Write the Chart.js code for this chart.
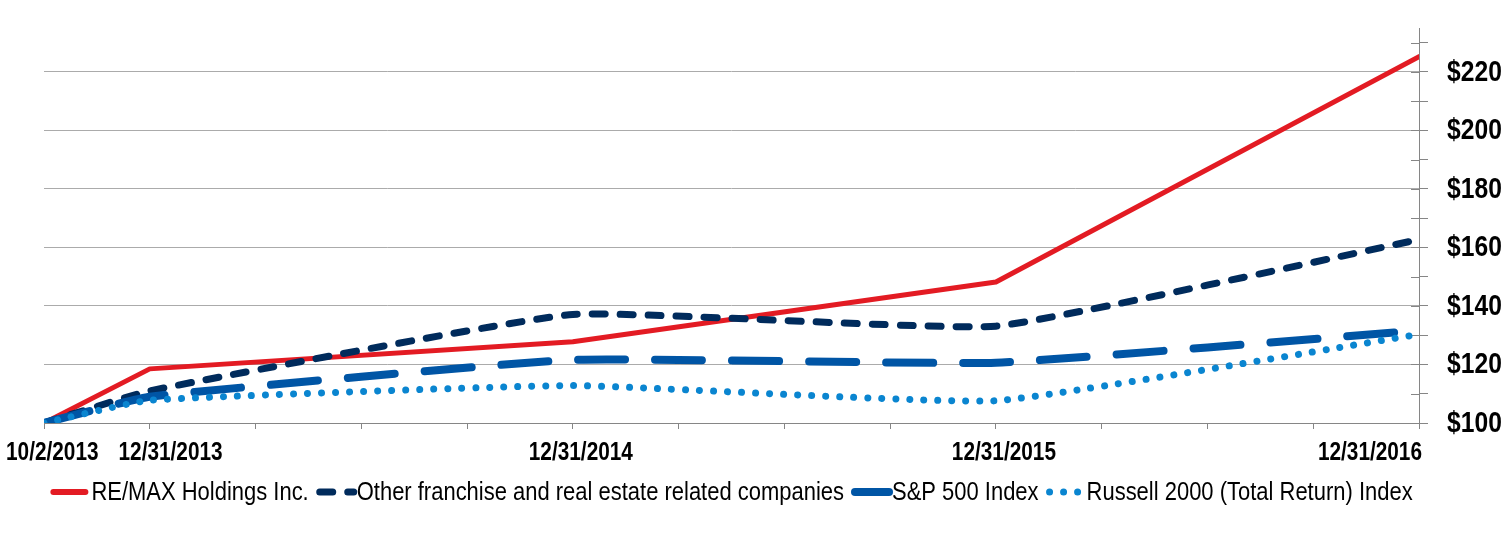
<!DOCTYPE html>
<html>
<head>
<meta charset="utf-8">
<script src="https://cdn.jsdelivr.net/npm/chart.js@4.4.1/dist/chart.umd.min.js"></script>
<style>
  html, body { margin: 0; padding: 0; background: #ffffff; }
  #wrap { width: 1507px; height: 536px; position: relative; }
</style>
</head>
<body>
<div id="wrap"><canvas id="c"></canvas></div>
<script>
// ---- data ----
const categories = ['10/2/2013', '12/31/2013', '12/31/2014', '12/31/2015', '12/31/2016'];
const quartersFromStart = [0, 1, 5, 9, 13];
const remax   = [100, 118.5, 127.8, 148.2, 225.2];
const other   = [100, 111.0, 137.1, 133.1, 162.7];
const sp500   = [100, 109.0, 121.6, 120.6, 131.6];
const russell = [100, 107.8, 112.8, 107.6, 130.3];
const seriesNames = ['RE/MAX Holdings Inc.', 'Other franchise and real estate related companies', 'S&P 500 Index', 'Russell 2000 (Total Return) Index'];
const yMin = 100, yMax = 235, yStep = 10, yLabelStep = 20;

// Arial-metric font drawn horizontally condensed to mimic Arial Narrow
const FONT = '"Liberation Sans", Arial, sans-serif';
const pts = vals => vals.map((v, i) => ({ x: quartersFromStart[i], y: v }));

const axisGray = '#868686';
const gridGray = '#ABABAB';

function narrowText(ctx, text, x, y, sx) {
  ctx.save();
  ctx.translate(x, y);
  ctx.scale(sx, 1);
  ctx.fillText(text, 0, 0);
  ctx.restore();
}

const inwardTicks = {
  id: 'inwardTicks',
  beforeDatasetsDraw(chart) {
    const { ctx, chartArea, scales } = chart;
    const y = scales.y;
    ctx.save();
    ctx.strokeStyle = axisGray;
    ctx.lineWidth = 1;
    y.ticks.forEach(t => {
      const py = Math.round(y.getPixelForValue(t.value)) + 0.5;
      ctx.beginPath();
      ctx.moveTo(chartArea.right - 8, py);
      ctx.lineTo(chartArea.right, py);
      ctx.stroke();
    });
    ctx.restore();
  }
};

const axisLabels = {
  id: 'axisLabels',
  afterDraw(chart) {
    const { ctx, chartArea, scales } = chart;
    // y labels
    const ys = scales.y;
    ctx.save();
    ctx.fillStyle = '#000';
    ctx.textBaseline = 'middle';
    ctx.textAlign = 'left';
    ctx.font = 'bold 29px ' + FONT;
    ys.ticks.forEach(t => {
      if (t.value % yLabelStep !== 0) return;
      narrowText(ctx, '$' + t.value, chartArea.right + 28, ys.getPixelForValue(t.value) + 1, 0.85);
    });
    // x labels
    const xs = scales.x;
    const sx = 0.80;
    ctx.font = 'bold 26px ' + FONT;
    let prevRight = -Infinity;
    categories.forEach((lab, i) => {
      const w = ctx.measureText(lab).width * sx;
      let left = xs.getPixelForValue(quartersFromStart[i]) + 8 - w / 2;
      if (i === 0) left = Math.max(left, 6);
      else left = Math.max(left, prevRight + 20);
      if (left + w > chartArea.right + 3) left = chartArea.right + 3 - w;
      narrowText(ctx, lab, left, chartArea.bottom + 30, sx);
      prevRight = left + w;
    });
    ctx.restore();
  }
};

const legendPlugin = {
  id: 'customLegend',
  afterDraw(chart) {
    const { ctx, chartArea } = chart;
    const sampleW = 38, gapAfterSample = 3, gapAfterText = 7, sx = 0.845;
    ctx.save();
    ctx.font = '26px ' + FONT;
    const items = chart.data.datasets.map(ds => ({ ds, w: ctx.measureText(ds.label).width * sx }));
    let total = 0;
    items.forEach((it, i) => { total += sampleW + gapAfterSample + it.w + (i < items.length - 1 ? gapAfterText : 0); });
    let x = (chartArea.left + chartArea.right) / 2 - total / 2;
    const yc = chartArea.bottom + 69;
    items.forEach(it => {
      const ds = it.ds;
      ctx.save();
      ctx.strokeStyle = ds.borderColor;
      ctx.lineWidth = ds.legendWidth || ds.borderWidth;
      ctx.lineCap = 'round';
      ctx.setLineDash(ds.borderDash || []);
      ctx.lineDashOffset = ds.legendDashOffset || 0;
      const inset = ds.borderDash && ds.borderDash.length ? 0 : 3;
      ctx.beginPath();
      ctx.moveTo(x + inset, yc);
      ctx.lineTo(x + sampleW - inset, yc);
      ctx.stroke();
      ctx.restore();
      x += sampleW + gapAfterSample;
      ctx.fillStyle = '#000';
      ctx.textBaseline = 'middle';
      ctx.textAlign = 'left';
      narrowText(ctx, ds.label, x, yc + 1, sx);
      x += it.w + gapAfterText;
    });
    ctx.restore();
  }
};

new Chart(document.getElementById('c'), {
  type: 'line',
  data: {
    datasets: [
      { label: seriesNames[0], data: pts(remax), borderColor: '#E31B23', borderWidth: 5, tension: 0, order: 3, legendWidth: 6, borderCapStyle: 'round', borderJoinStyle: 'round' },
      { label: seriesNames[1], data: pts(other), borderColor: '#002B5C', borderWidth: 7, borderDash: [13, 15], borderCapStyle: 'round', tension: 0.12, order: 2, legendDashOffset: -4 },
      { label: seriesNames[2], data: pts(sp500), borderColor: '#0055A5', borderWidth: 8, borderDash: [47, 30], borderCapStyle: 'round', tension: 0.12, order: 1, legendDashOffset: -4 },
      { label: seriesNames[3], data: pts(russell), borderColor: '#0A85D0', borderWidth: 7, borderDash: [0.01, 14], borderCapStyle: 'round', tension: 0.12, order: 0, legendDashOffset: -4 }
    ]
  },
  options: {
    responsive: true,
    maintainAspectRatio: false,
    animation: false,
    devicePixelRatio: 1,
    layout: { padding: { left: 44, top: 28, right: 0, bottom: 0 } },
    elements: { point: { radius: 0, hoverRadius: 0 } },
    plugins: { legend: { display: false }, tooltip: { enabled: false } },
    scales: {
      x: {
        type: 'linear',
        min: 0,
        max: quartersFromStart[quartersFromStart.length - 1],
        ticks: { display: false, stepSize: 1 },
        grid: { drawOnChartArea: false, drawTicks: true, tickLength: 6, color: axisGray },
        border: { display: true, color: axisGray, width: 1 },
        afterFit: s => { s.height = 113; }
      },
      y: {
        position: 'right',
        min: yMin,
        max: yMax,
        ticks: { display: false, stepSize: yStep, includeBounds: false },
        grid: {
          drawOnChartArea: true,
          drawTicks: true,
          tickLength: 9,
          tickColor: axisGray,
          color: c => (c.tick && c.tick.value % yLabelStep === 0 && c.tick.value > yMin ? gridGray : 'rgba(0,0,0,0)')
        },
        border: { display: true, color: axisGray, width: 1 },
        afterFit: s => { s.width = 88; }
      }
    }
  },
  plugins: [inwardTicks, axisLabels, legendPlugin]
});
</script>
</body>
</html>
